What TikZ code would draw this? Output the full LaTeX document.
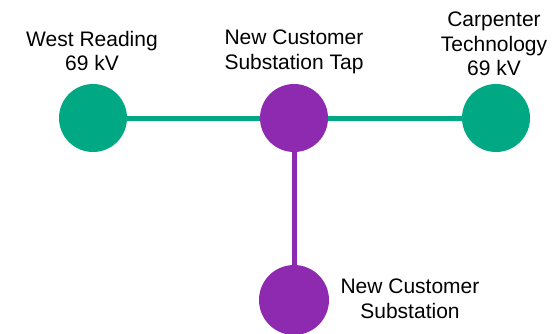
\documentclass[tikz,border=0pt]{standalone}
\usepackage{fontspec}
\setmainfont{Liberation Sans}
\definecolor{busgreen}{RGB}{0,168,132}
\definecolor{tappurple}{RGB}{142,42,176}
\begin{document}
\begin{tikzpicture}[x = 1pt, y = -1pt,
    bus/.style = {circle, fill = #1, minimum size = 68pt, inner sep = 0pt},
    line/.style = {#1, line width = 5pt},
    lbl/.style = {align = center, anchor = north, inner sep = 0pt,
      font = \fontsize{21}{24.5}\selectfont}]
    \useasboundingbox (0,0) rectangle (554,333);
    \node [bus = busgreen]   (wr)  at (93,118)  {};
    \node [bus = tappurple]  (tap) at (294,118) {};
    \node [bus = busgreen]   (ct)  at (496,118) {};
    \node [bus = tappurple, minimum size = 70pt] (ncs) at (294,300) {};
    \draw [line = busgreen]  (wr) -- (tap);
    \draw [line = busgreen]  (tap) -- (ct);
    \draw [line = tappurple] (tap) -- (ncs);
    % labels
    \node [lbl] (wrtext)  at (92,31)   {West Reading\\69 kV};
    \node [lbl] (taptext) at (294,30)  {New Customer\\Substation Tap};
    \node [lbl] (cttext)  at (494,12)  {Carpenter\\Technology\\69 kV};
    \node [lbl] (ncstext) at (410,279) {New Customer\\Substation};
  \end{tikzpicture}
\end{document}
